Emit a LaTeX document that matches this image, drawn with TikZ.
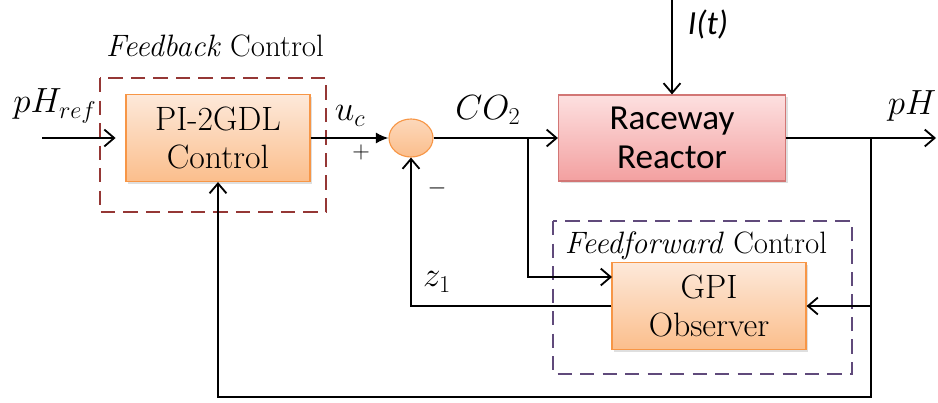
\documentclass[tikz,border=0pt]{standalone}
\usepackage{fontspec}
\newfontfamily\calibri{Carlito}
\usetikzlibrary{arrows.meta,positioning,calc,shapes.geometric,shadows}
\definecolor{oborder}{HTML}{F79646}
\definecolor{otop}{HTML}{FDE9DA}
\definecolor{obot}{HTML}{FBBE8C}
\definecolor{rborder}{HTML}{D27675}
\definecolor{rtop}{HTML}{FDE0E0}
\definecolor{rbot}{HTML}{F3A0A0}
\definecolor{fbred}{HTML}{953735}
\definecolor{ffpurple}{HTML}{604A7B}

\begin{document}
\begin{tikzpicture}[x=0.025cm,y=-0.025cm,
    block/.style={rectangle, draw=oborder, line width=0.8pt, top color=otop, bottom color=obot, align=center, font=\fontsize{24}{27}\selectfont, drop shadow={opacity=0.25, shadow xshift=1.5pt, shadow yshift=-1.5pt}},
    plant/.style={rectangle, draw=rborder, line width=0.8pt, top color=rtop, bottom color=rbot, align=center, font=\calibri\fontsize{25}{28}\selectfont, drop shadow={opacity=0.25, shadow xshift=1.5pt, shadow yshift=-1.5pt}},
    sumnode/.style={ellipse, draw=oborder, line width=0.8pt, top color=otop!60!obot, bottom color=obot, minimum width=1.1cm, minimum height=0.95cm, inner sep=0pt},
    zone/.style={line width=2pt, dash pattern=on 10pt off 6pt},
    arrow/.style={-{Straight Barb[length=7pt,width=12pt]}, line width=1.3pt},
    sig/.style={font=\fontsize{25}{28}\selectfont},
    tag/.style={font=\fontsize{22}{24}\selectfont}
]
\useasboundingbox (0,0) rectangle (938,402);

% blocks
\node[block, minimum width=4.6cm, minimum height=2.175cm] (pi) at (218,138) {PI-2GDL\\Control};
\node[sumnode] (sum) at (411,138) {};
\node[plant, minimum width=5.675cm, minimum height=2.15cm] (reactor) at (672,138) {Raceway\\Reactor};
\node[block, minimum width=4.85cm, minimum height=2.175cm] (gpi) at (709,306) {GPI\\Observer};

% dashed zones
\draw[zone, fbred] (100,78) rectangle (326,212);
\draw[zone, ffpurple] (553,221) rectangle (852,374);
\node[tag] (fblabel) at (215,46) {\textit{Feedback} Control};
\node[tag] (fflabel) at (696,246) {\textit{Feedforward} Control};

% points
\coordinate (ref) at (42,138);
\coordinate (light) at (672,0);
\coordinate (br1) at (528,138);
\coordinate (ffin) at (612,277);
\coordinate (br2) at (871,138);
\coordinate (out) at (936,138);
\coordinate (bot) at (871,397);

% signals
\draw[arrow, shorten >=7pt] (ref) -- (pi.west);
\draw[-{Latex[length=9pt,width=8pt]}, line width=1.3pt] (pi.east) -- (sum.west);
\draw[arrow] (sum.east) -- (reactor.west);
\draw[arrow] (light) -- (reactor.north);
\draw[arrow] (reactor.east) -- (out);
\draw[arrow] (br1) |- (ffin);
\draw[arrow] (br2) |- (gpi.east);
\draw[arrow] (gpi.west) -| (sum.south);
\draw[arrow] (br2) -- (bot) -| (pi.south);

% labels
\node[sig] (lref) at (55,106) {$pH_{ref}$};
\node[sig] (luc) at (350,116) {$u_c$};
\node[sig] (lco) at (488,110) {$CO_2$};
\node[sig] (lph) at (912,106) {$pH$};
\node[font=\calibri\fontsize{24}{26}\selectfont] (lit) at (708,24) {\textit{I(t)}};
\node[sig] (lz) at (437,282) {$z_1$};
\node[font=\fontsize{16}{18}\selectfont] (lplus) at (361,152) {$+$};
\node[font=\fontsize{16}{18}\selectfont] (lminus) at (437,188) {$-$};

\end{tikzpicture}
\end{document}
